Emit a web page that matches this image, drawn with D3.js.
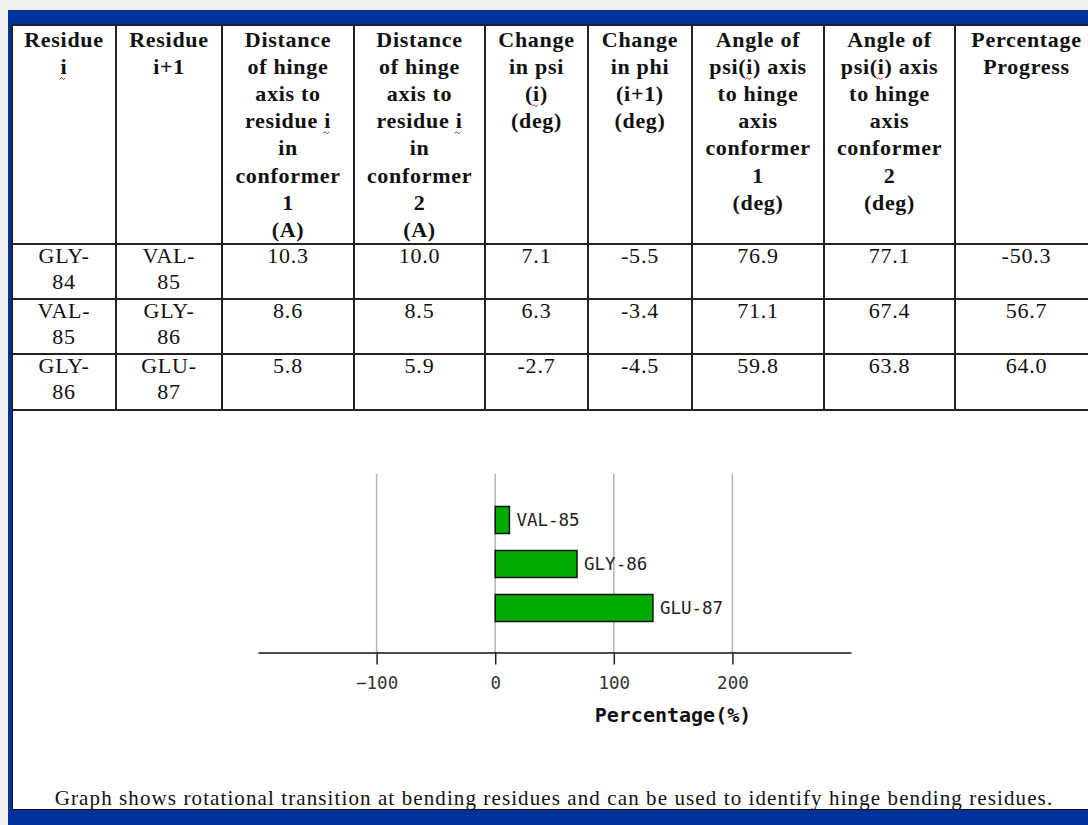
<!DOCTYPE html>
<html>
<head>
<meta charset="utf-8">
<script src="https://cdn.jsdelivr.net/npm/d3@7"></script>
<style>
  html, body { margin: 0; padding: 0; background: #f0f0f0; overflow: hidden; }
  svg { display: block; }
</style>
</head>
<body>
<svg id="page" width="1088" height="825"></svg>
<script>
// Table header, one array of wrapped lines per column ({i} = spell-check marked "i")
const headerLines = [
  ["Residue", "{i}"],
  ["Residue", "i+1"],
  ["Distance", "of hinge", "axis to", "residue {i}", "in", "conformer", "1", "(A)"],
  ["Distance", "of hinge", "axis to", "residue {i}", "in", "conformer", "2", "(A)"],
  ["Change", "in psi", "({i})", "(deg)"],
  ["Change", "in phi", "(i+1)", "(deg)"],
  ["Angle of", "psi({i}) axis", "to hinge", "axis", "conformer", "1", "(deg)"],
  ["Angle of", "psi({i}) axis", "to hinge", "axis", "conformer", "2", "(deg)"],
  ["Percentage", "Progress"]
];

// Table rows
const residueI    = ["GLY-84", "VAL-85", "GLY-86"];
const residueNext = ["VAL-85", "GLY-86", "GLU-87"];
const distConf1   = [10.3, 8.6, 5.8];
const distConf2   = [10.0, 8.5, 5.9];
const deltaPsi    = [7.1, 6.3, -2.7];
const deltaPhi    = [-5.5, -3.4, -4.5];
const anglePsi1   = [76.9, 71.1, 59.8];
const anglePsi2   = [77.1, 67.4, 63.8];
const progress    = [-50.3, 56.7, 64.0];

// Bar chart
const barLabels = ["VAL-85", "GLY-86", "GLU-87"];
const barValues = [12, 69, 133];
const tickValues = [-100, 0, 100, 200];
const axisTitle = "Percentage(%)";
const caption = "Graph shows rotational transition at bending residues and can be used to identify hinge bending residues.";

// ---- layout ----
const colEdges = [12, 116, 222, 354, 485, 588, 692, 824, 955, 1098];
const rowEdges = [25, 244, 299, 354, 410];
const serif = "'Liberation Serif', 'Times New Roman', serif";
const mono = "'DejaVu Sans Mono', monospace";

const svg = d3.select("#page");

// page frame
svg.append("rect").attr("width", 1088).attr("height", 825).attr("fill", "#f0f0f0");
svg.append("rect").attr("x", 8).attr("y", 10).attr("width", 1080).attr("height", 815).attr("fill", "#003399");
svg.append("rect").attr("x", 12).attr("y", 25).attr("width", 1076).attr("height", 785).attr("fill", "#fff");
svg.append("line").attr("x1", 12.5).attr("x2", 12.5).attr("y1", 25).attr("y2", 810)
  .attr("stroke", "#111").attr("stroke-width", 1);
svg.append("line").attr("x1", 12).attr("x2", 1088).attr("y1", 809.5).attr("y2", 809.5)
  .attr("stroke", "#111").attr("stroke-width", 1);

// table grid
const grid = svg.append("g").attr("stroke", "#222").attr("stroke-width", 2);
colEdges.forEach(cx => {
  grid.append("line").attr("x1", cx).attr("x2", cx)
    .attr("y1", rowEdges[0]).attr("y2", rowEdges[rowEdges.length - 1]);
});
rowEdges.forEach(ry => {
  grid.append("line").attr("x1", colEdges[0]).attr("x2", 1088).attr("y1", ry).attr("y2", ry);
});

// write a line of text, drawing spell-check squiggles under {marked} parts
function writeLine(g, str, cx, by, bold) {
  const t = g.append("text")
    .attr("x", cx).attr("y", by)
    .attr("text-anchor", "middle")
    .style("font-family", serif)
    .style("font-size", "22px")
    .style("letter-spacing", bold ? "0.7px" : "0.8px")
    .style("font-weight", bold ? "bold" : "normal")
    .attr("fill", "#111");
  str.split(/(\{[^}]*\})/).filter(s => s.length).forEach(part => {
    const marked = part.startsWith("{");
    t.append("tspan").classed("spell", marked).text(marked ? part.slice(1, -1) : part);
  });
  t.selectAll("tspan.spell").each(function() {
    const b = this.getBBox();
    const x0 = b.x - 1, x1 = b.x + b.width, yy = by + 5;
    let d = `M${x0},${yy}`;
    for (let xx = x0 + 2, up = true; xx <= x1 + 0.1; xx += 2, up = !up) {
      d += ` L${xx},${up ? yy - 1.5 : yy + 0.5}`;
    }
    g.append("path").attr("d", d).attr("fill", "none")
      .attr("stroke", "#e02020").attr("stroke-width", 1);
  });
}

// header
const head = svg.append("g");
headerLines.forEach((lines, c) => {
  const cx = (colEdges[c] + colEdges[c + 1]) / 2;
  lines.forEach((ln, i) => writeLine(head, ln, cx, 47 + i * 27.1, true));
});

// body rows
const body = svg.append("g");
const fmt = v => v.toFixed(1);
residueI.forEach((res, r) => {
  const cells = [
    res.replace("-", "-\n"), residueNext[r].replace("-", "-\n"),
    fmt(distConf1[r]), fmt(distConf2[r]), fmt(deltaPsi[r]), fmt(deltaPhi[r]),
    fmt(anglePsi1[r]), fmt(anglePsi2[r]), fmt(progress[r])
  ];
  cells.forEach((txt, c) => {
    const cx = (colEdges[c] + colEdges[c + 1]) / 2;
    txt.split("\n").forEach((ln, i) => writeLine(body, ln, cx, rowEdges[r + 1] + 19 + i * 26, false));
  });
});

// ---- chart ----
const x = d3.scaleLinear().domain([-200, 300]).range([258, 851]);
const y = d3.scaleBand().domain(barLabels).range([498, 630])
  .paddingInner(0.386).paddingOuter(0.193);
const axisY = 652.5;

const chart = svg.append("g");

chart.selectAll(".grid")
  .data(tickValues)
  .enter().append("line")
  .attr("class", "grid")
  .attr("x1", d => x(d)).attr("x2", d => x(d))
  .attr("y1", 474).attr("y2", axisY)
  .attr("stroke", "#b4b4b4").attr("stroke-width", 1.5);

chart.selectAll(".bar")
  .data(barLabels)
  .enter().append("rect")
  .attr("class", "bar")
  .attr("x", x(0))
  .attr("y", d => y(d))
  .attr("width", (d, i) => x(barValues[i]) - x(0))
  .attr("height", y.bandwidth())
  .attr("fill", "#00aa00")
  .attr("stroke", "#111")
  .attr("stroke-width", 1.5);

chart.selectAll(".bar-label")
  .data(barLabels)
  .enter().append("text")
  .attr("class", "bar-label")
  .attr("x", (d, i) => x(barValues[i]) + 7)
  .attr("y", d => y(d) + y.bandwidth() / 2)
  .attr("dy", "0.36em")
  .style("font-family", mono)
  .style("font-size", "17.5px")
  .attr("fill", "#222")
  .text(d => d);

const axis = chart.append("g")
  .attr("transform", `translate(0,${axisY})`)
  .call(d3.axisBottom(x).tickValues(tickValues).tickSize(12).tickSizeOuter(0).tickPadding(12));
axis.select(".domain").attr("stroke", "#111").attr("stroke-width", 1.5);
axis.selectAll(".tick line").attr("stroke", "#222").attr("stroke-width", 1.5);
axis.selectAll(".tick text")
  .style("font-family", mono)
  .style("font-size", "17.5px")
  .attr("fill", "#333");

chart.append("text")
  .attr("x", 673).attr("y", 722)
  .attr("text-anchor", "middle")
  .style("font-family", mono)
  .style("font-size", "20px")
  .style("font-weight", "bold")
  .attr("fill", "#111")
  .text(axisTitle);

svg.append("text")
  .attr("x", 554).attr("y", 805)
  .attr("text-anchor", "middle")
  .style("font-family", serif)
  .style("font-size", "21px")
  .style("letter-spacing", "1.1px")
  .attr("fill", "#111")
  .text(caption);
</script>
</body>
</html>
